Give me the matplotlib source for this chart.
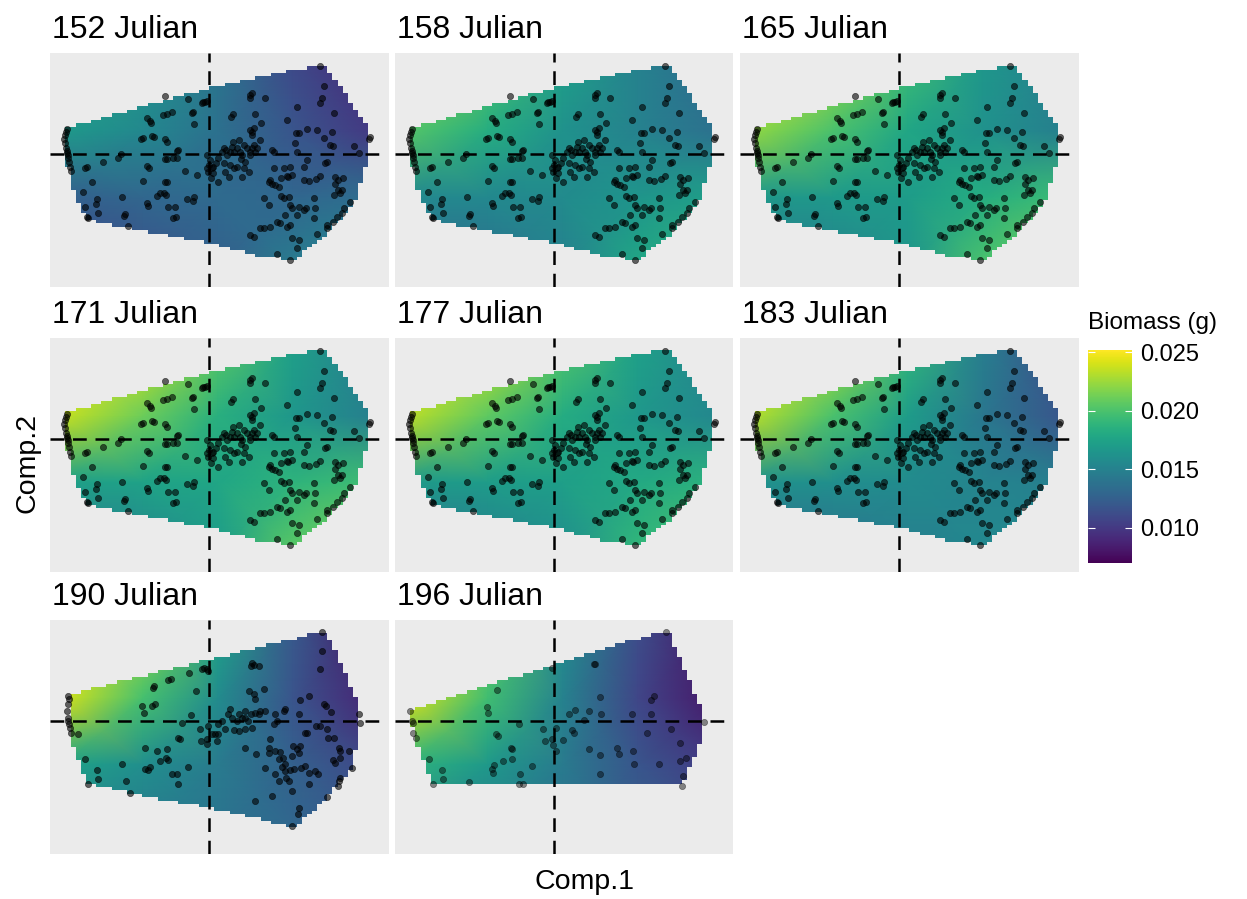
import numpy as np
import matplotlib.pyplot as plt
from matplotlib.path import Path
from matplotlib.colors import Normalize
from matplotlib.cm import ScalarMappable

plt.rcParams['font.family'] = ['Liberation Sans', 'DejaVu Sans']

days = [152, 158, 165, 171, 177, 183, 190, 196]

# nodes of the coarse prediction grid (Comp.1 across, Comp.2 up)
grid_c1 = [-4.4, -2.0, 0.25, 2.5, 4.9]
grid_c2 = [-3.3, -1.3, 0.7, 2.75]

# predicted biomass (g) at the grid nodes, rows from bottom to top
biomass_152 = [[0.0105, 0.0115, 0.0125, 0.0145, 0.0160],
               [0.0125, 0.0130, 0.0133, 0.0130, 0.0135],
               [0.0168, 0.0155, 0.0138, 0.0118, 0.0100],
               [0.0185, 0.0165, 0.0140, 0.0110, 0.0090]]
biomass_158 = [[0.0128, 0.0138, 0.0150, 0.0178, 0.0192],
               [0.0155, 0.0155, 0.0157, 0.0165, 0.0172],
               [0.0203, 0.0183, 0.0162, 0.0150, 0.0137],
               [0.0230, 0.0202, 0.0172, 0.0150, 0.0132]]
biomass_165 = [[0.0138, 0.0150, 0.0165, 0.0200, 0.0220],
               [0.0166, 0.0168, 0.0170, 0.0183, 0.0195],
               [0.0222, 0.0200, 0.0178, 0.0163, 0.0148],
               [0.0255, 0.0225, 0.0195, 0.0166, 0.0148]]
biomass_171 = [[0.0138, 0.0153, 0.0170, 0.0205, 0.0222],
               [0.0172, 0.0175, 0.0178, 0.0188, 0.0196],
               [0.0236, 0.0211, 0.0185, 0.0166, 0.0148],
               [0.0270, 0.0240, 0.0205, 0.0172, 0.0148]]
biomass_177 = [[0.0136, 0.0147, 0.0160, 0.0190, 0.0205],
               [0.0168, 0.0170, 0.0172, 0.0180, 0.0187],
               [0.0233, 0.0207, 0.0182, 0.0167, 0.0154],
               [0.0268, 0.0237, 0.0202, 0.0173, 0.0152]]
biomass_183 = [[0.0130, 0.0138, 0.0148, 0.0155, 0.0160],
               [0.0163, 0.0160, 0.0157, 0.0152, 0.0148],
               [0.0232, 0.0200, 0.0170, 0.0142, 0.0118],
               [0.0268, 0.0230, 0.0190, 0.0147, 0.0112]]
biomass_190 = [[0.0150, 0.0145, 0.0140, 0.0130, 0.0120],
               [0.0175, 0.0160, 0.0145, 0.0126, 0.0108],
               [0.0240, 0.0198, 0.0158, 0.0117, 0.0088],
               [0.0272, 0.0225, 0.0175, 0.0120, 0.0078]]
biomass_196 = [[0.0150, 0.0145, 0.0138, 0.0125, 0.0115],
               [0.0188, 0.0168, 0.0145, 0.0118, 0.0100],
               [0.0240, 0.0196, 0.0150, 0.0108, 0.0080],
               [0.0265, 0.0210, 0.0158, 0.0112, 0.0078]]

# convex hulls of the sampled sites
hull_main = [(-4.28, 0.79), (0.0, 1.99), (3.32, 2.68), (3.47, 2.62), (4.77, 0.72),
             (4.77, 0.02), (4.37, -1.38), (3.52, -2.38), (2.47, -3.20), (1.37, -3.03),
             (0.0, -2.68), (-1.58, -2.38), (-3.68, -1.98), (-4.08, -1.13), (-4.28, -0.23)]
hull_190 = [(-4.23, 0.80), (0.0, 1.85), (3.37, 2.68), (3.52, 2.60), (4.42, 0.55),
            (4.42, -0.05), (4.32, -1.30), (3.47, -2.35), (2.52, -3.20), (1.92, -3.05),
            (0.0, -2.60), (-0.93, -2.45), (-2.38, -2.15), (-3.63, -1.90), (-3.83, -1.45),
            (-4.08, -0.80), (-4.23, -0.10)]
hull_196 = [(-4.28, 0.35), (-0.13, 1.65), (2.97, 2.62), (3.42, 2.62), (4.42, 0.35),
            (4.42, -0.55), (3.87, -1.80), (3.82, -1.90), (-3.68, -1.90), (-4.18, -0.55),
            (-4.28, 0.0)]

# PCA scores of the sites (Comp.1, Comp.2)
scores_main = [
    (-4.28, 0.75), (-4.30, 0.67), (-4.33, 0.57), (-4.36, 0.45), (-4.34, 0.32), (-4.30, 0.17),
    (-4.28, 0.09), (-4.26, 0.02), (-4.23, -0.03), (-4.23, -0.13), (-4.21, -0.23), (-4.18, -0.38),
    (-4.16, -0.51), (-3.78, -1.13), (-3.73, -1.58), (-3.68, -1.88), (-3.63, -1.93), (-3.38, -1.36),
    (-3.41, -1.51), (-3.33, -1.78), (-3.53, -0.83), (-3.68, -0.38), (-3.73, -0.43), (-3.18, -0.25),
    (-2.63, -1.30), (-2.66, -0.01), (-2.73, -0.13), (-2.53, -1.81), (-2.56, -1.86), (-2.43, -2.16),
    (-1.88, 1.07), (-1.78, 0.99), (-1.76, 0.92), (-1.38, 1.17), (-1.28, 1.19), (-1.33, 1.74),
    (-1.13, 1.27), (-2.06, 0.45), (-1.98, 0.49), (-1.73, 0.54), (-1.66, 0.52), (-1.33, 0.45),
    (-1.26, 0.35), (-1.86, -0.35), (-1.80, -0.43), (-2.00, -0.80), (-1.33, -0.83), (-1.28, -0.83),
    (-1.48, -1.18), (-1.58, -1.25), (-1.35, -1.17), (-1.30, -1.23), (-1.88, -1.48), (-1.83, -1.55),
    (-1.23, -1.58), (-1.03, -1.59), (-1.08, -1.91), (-1.00, -1.89), (-0.98, 0.09), (-0.93, 0.12),
    (-1.33, -0.16), (-1.26, -0.16), (-1.08, -0.11), (-0.98, -0.13), (-0.73, -0.50), (-0.63, 1.65),
    (-0.53, 1.24), (-0.48, 1.27), (-0.46, 0.91), (-0.23, 1.52), (-0.18, 1.57), (-0.13, 1.55),
    (-0.08, 1.59), (-0.38, -0.63), (-0.46, -1.30), (-0.48, -1.41), (-0.68, -1.36),
    (-0.08, -0.03), (0.02, -0.18), (0.00, -0.33), (-0.08, -0.43), (0.07, -0.43), (-0.03, -0.53),
    (0.12, -0.58), (0.04, -0.73), (0.12, -0.38), (0.20, -0.28), (0.27, -0.13), (0.27, -0.83),
    (0.37, 0.07), (0.42, 0.17), (0.50, 0.12), (0.52, -0.03), (0.62, 0.07), (0.67, 0.22),
    (0.72, 0.07), (0.70, 0.37), (0.87, 0.42), (0.82, 0.17), (0.92, 0.07), (0.97, -0.03),
    (0.94, -0.15), (1.02, 0.27), (1.12, 0.17), (1.20, 0.07), (1.27, 0.17), (1.32, 0.27),
    (1.37, 0.07), (1.22, -0.03), (1.07, -0.23), (1.04, -0.43), (0.97, -0.68), (1.17, -0.53),
    (1.20, 0.72), (1.27, 0.67), (1.34, 0.77), (1.27, 0.57), (1.42, 0.17), (1.50, 0.42),
    (0.62, -0.33), (0.57, -0.68), (0.42, -0.28), (0.72, -0.43), (0.82, -0.38), (0.47, -0.53),
    (1.22, 1.67), (1.20, 1.77), (1.27, 1.82), (1.67, 1.67), (0.70, 1.19), (0.64, 1.12),
    (1.37, 1.20), (1.54, 0.94), (2.32, 1.02), (2.62, 1.40), (3.30, 1.52), (3.37, 1.67),
    (3.44, 2.04), (3.32, 2.65),
    (1.87, 0.12), (1.92, 0.05), (1.94, -0.43), (1.82, -0.78), (1.77, -0.85), (1.87, -0.90),
    (1.97, -0.93), (2.07, -0.98), (2.14, -0.73), (2.22, -0.43), (2.32, -0.65), (2.34, -0.68),
    (2.42, -0.38), (2.47, -0.63), (2.62, 0.07), (2.60, 0.62), (2.67, 0.62), (2.57, 0.32),
    (2.92, 0.75), (3.22, 0.72), (3.44, 0.47), (3.60, 0.27), (3.70, 0.24), (3.72, 1.22),
    (3.67, 0.67), (2.84, -0.38), (2.92, -0.18), (2.82, -0.78), (2.97, -0.81), (3.20, -0.75),
    (3.32, -0.65), (3.47, -0.28), (3.52, -0.23), (3.77, -0.68), (3.84, -0.78), (3.77, -0.91),
    (3.84, -1.08), (3.92, -1.18), (3.97, -1.08), (3.72, -1.23), (4.00, -0.71), (4.34, 0.25),
    (4.47, 0.02), (4.80, 0.52), (4.77, 0.45), (1.62, -1.33), (1.77, -1.53), (2.15, -1.25),
    (2.22, -1.33), (2.37, -1.28), (2.42, -1.53), (2.47, -1.63), (2.67, -1.58), (2.62, -1.83),
    (2.82, -1.68), (2.90, -1.61), (3.12, -1.33), (3.17, -1.61), (3.12, -1.93), (3.22, -2.41),
    (3.52, -2.13), (3.52, -2.21), (3.70, -2.03), (3.82, -1.88), (4.02, -1.63), (4.22, -1.43),
    (3.97, -1.78), (1.52, -2.23), (1.62, -2.23), (1.82, -2.18), (1.22, -2.43), (1.32, -2.48),
    (2.27, -1.83), (2.32, -2.18), (2.42, -2.13), (2.47, -2.53), (2.67, -2.58), (2.62, -2.83),
    (2.40, -3.18), (2.02, -3.01), (2.02, -2.03), (2.12, -2.08),
]

scores_190 = [
    (-4.23, 0.75), (-4.21, 0.65), (-4.25, 0.52), (-4.28, 0.30), (-4.25, 0.10), (-4.23, 0.00),
    (-4.21, -0.10), (-4.18, -0.20), (-4.15, -0.35), (-3.95, -0.38), (-3.73, -1.15), (-3.63, -1.90),
    (-3.38, -1.47), (-3.35, -1.75), (-2.61, -1.30), (-2.51, -1.80), (-2.38, -2.15), (-2.03, 0.45),
    (-1.95, 0.25), (-1.68, 0.98), (-1.65, 1.05), (-1.63, 0.52), (-1.73, 0.45), (-1.23, 1.22),
    (-1.15, 1.25), (-0.61, 1.45), (-0.40, 0.90), (-0.23, 1.55), (-0.15, 1.58), (-0.08, 1.57),
    (-0.03, 1.50), (-0.55, 0.18), (-0.93, -0.50), (-0.88, -0.55), (-0.83, -0.05), (-0.28, -0.25),
    (-0.25, -0.60), (-0.08, -0.55), (-0.06, -0.70), (-0.03, -0.15), (0.07, -0.40), (0.27, -0.10),
    (0.37, 0.00), (0.55, 0.20), (0.62, 0.35), (0.67, 0.10), (0.82, 0.00), (0.87, 0.20),
    (0.97, 0.10), (1.05, 0.10), (1.15, 0.00), (1.07, 0.30), (1.25, 0.20), (1.37, 0.25),
    (1.47, 0.20), (1.52, 0.30), (1.67, 0.30), (1.32, 0.80), (1.37, 0.65), (1.17, 0.90),
    (1.27, 1.75), (1.32, 1.68), (1.25, 1.65), (1.47, 1.65), (1.62, 0.95), (1.97, 0.20),
    (2.02, 0.00), (1.92, -0.10), (2.22, 0.30), (2.27, 0.35), (2.72, 0.62), (2.97, 0.75),
    (3.37, 2.10), (3.32, 1.55), (3.42, 0.52), (3.49, 0.45), (3.65, 0.28), (3.37, 2.68),
    (2.67, 0.20), (2.85, -0.35), (2.92, -0.35), (3.19, -0.15), (3.32, -0.15), (3.52, -0.25),
    (3.55, -0.50), (3.72, -0.50), (3.87, -0.80), (3.92, -0.90), (4.17, -0.90), (3.69, -1.17),
    (3.77, -1.25), (3.92, -1.10), (4.49, 0.20), (4.52, -0.05), (4.27, -1.40), (3.92, -1.70),
    (3.87, -1.80), (3.85, -1.95), (3.52, -2.28), (-1.93, -1.45), (-1.78, -1.38), (-1.48, -1.20),
    (-1.31, -1.12), (-1.25, -1.18), (-1.26, -0.85), (-1.13, -1.60), (-0.98, -1.60), (-0.93, -1.90),
    (-0.63, -1.37), (-1.58, -0.90), (-1.93, -0.80), (-1.83, -1.48), (1.35, -2.40), (1.87, -2.25),
    (1.79, -0.80), (1.97, -0.90), (2.12, -0.93), (2.07, -1.15), (2.27, -1.28), (2.19, -1.10),
    (2.17, -1.38), (2.25, -1.50), (2.42, -1.47), (2.52, -1.45), (2.29, -1.70), (2.37, -1.80),
    (2.62, -0.85), (2.67, -0.95), (2.75, -1.40), (2.87, -1.35), (2.97, -1.55), (3.17, -1.50),
    (2.97, -1.90), (3.25, -1.60), (2.47, -2.10), (2.69, -2.60), (2.65, -2.80), (2.47, -3.15),
    (1.67, -1.40), (1.97, -1.60), (2.07, -1.80), (2.47, -1.05), (2.49, -0.75), (2.72, -0.75),
    (1.07, -0.80), (1.39, -1.00), (1.82, -0.55), (1.77, -0.95), (0.27, -0.38), (0.47, -0.25),
    (0.72, -0.28), (0.87, -0.30), (1.07, -0.25), (1.27, -0.20), (0.17, -0.40), (0.22, -0.60),
]

scores_196 = [
    (-4.33, 0.30), (-4.28, 0.00), (-4.25, -0.05), (-4.23, -0.35), (-4.15, -0.50), (-3.75, -1.15),
    (-3.38, -1.47), (-3.35, -1.75), (-3.63, -1.90), (-2.55, -1.83), (-2.01, 0.42), (-1.98, 0.23),
    (-1.71, 0.93), (-1.88, -1.45), (-1.81, -1.32), (-1.85, -1.55), (-1.75, -0.38), (-1.68, -0.45),
    (-1.55, -1.20), (-1.31, -0.80), (-1.28, -0.85), (-1.28, -1.15), (-1.03, -1.58), (-1.05, -1.90),
    (-0.93, -1.90), (-1.05, -0.10), (-0.68, -1.35), (-0.33, -0.25), (-0.28, -0.60), (-0.08, 1.60),
    (-0.08, -0.55), (-0.05, -0.72), (0.05, -0.90), (0.05, -0.20), (0.27, -0.58), (0.52, -0.28),
    (0.59, -0.35), (0.42, 0.20), (0.62, 0.32), (0.87, 0.02), (1.02, 0.30), (1.39, 0.22),
    (1.37, 0.72), (1.19, 1.70), (1.22, 1.72), (1.04, -0.83), (1.35, -1.02), (1.37, -1.58),
    (1.87, -0.80), (1.92, -1.00), (2.35, -0.90), (2.37, -1.28), (2.32, 0.20), (2.77, -0.35),
    (2.90, 0.22), (2.97, 0.75), (2.89, 0.62), (3.12, -1.30), (3.50, -0.25), (3.77, -0.65),
    (3.77, -1.20), (3.95, -1.12), (3.85, -1.65), (3.82, -1.95), (3.35, 2.68), (4.49, -0.02),
]

panels = {
    152: (biomass_152, hull_main, scores_main),
    158: (biomass_158, hull_main, scores_main),
    165: (biomass_165, hull_main, scores_main),
    171: (biomass_171, hull_main, scores_main),
    177: (biomass_177, hull_main, scores_main),
    183: (biomass_183, hull_main, scores_main),
    190: (biomass_190, hull_190, scores_190),
    196: (biomass_196, hull_196, scores_196),
}

W, H = 1247, 899
fig = plt.figure(figsize=(W / 100, H / 100), dpi=100)

xlim = (-4.78, 5.35)
ylim = (-3.99, 3.03)
norm = Normalize(vmin=0.0070, vmax=0.0252)
cmap = plt.get_cmap('viridis')
panel_bg = '#EBEBEB'

# raster cells used to cut the surface to the hull
nx, ny = 66, 70
xe = np.linspace(xlim[0], xlim[1], nx + 1)
ye = np.linspace(ylim[0], ylim[1], ny + 1)
xc = (xe[:-1] + xe[1:]) / 2
yc = (ye[:-1] + ye[1:]) / 2
XX, YY = np.meshgrid(xc, yc)
cell_centres = np.column_stack([XX.ravel(), YY.ravel()])

col_left = [50, 395, 740]
row_top = [53, 338, 620]
pw, ph = 338, 234

for i, day in enumerate(days):
    r, c = divmod(i, 3)
    ax = fig.add_axes([col_left[c] / W, 1 - (row_top[r] + ph) / H, pw / W, ph / H])
    ax.set_facecolor(panel_bg)
    biomass, hull, scores = panels[day]

    ax.pcolormesh(grid_c1, grid_c2, np.array(biomass), shading='gouraud',
                  cmap=cmap, norm=norm, zorder=1)

    inside = Path(hull).contains_points(cell_centres).reshape(ny, nx)
    bg = np.zeros((ny, nx, 4))
    bg[~inside] = (235 / 255, 235 / 255, 235 / 255, 1.0)
    ax.imshow(bg, extent=(xlim[0], xlim[1], ylim[0], ylim[1]), origin='lower',
              interpolation='nearest', aspect='auto', zorder=2)

    ax.axhline(0, color='black', lw=1.8, ls=(0, (5.5, 3.5)), zorder=3)
    ax.axvline(0, color='black', lw=1.8, ls=(0, (5.5, 3.5)), zorder=3)

    pts = np.array(scores)
    alpha = 0.45 if day == 196 else 0.6
    ax.scatter(pts[:, 0], pts[:, 1], s=20, c='black', alpha=alpha,
               linewidths=0.5, edgecolors='black', zorder=4)

    ax.set_xlim(xlim)
    ax.set_ylim(ylim)
    ax.set_xticks([])
    ax.set_yticks([])
    for sp in ax.spines.values():
        sp.set_visible(False)
    ax.set_title(f'{day} Julian', loc='left', fontsize=23, pad=11, x=0.005)

# colour bar
cax = fig.add_axes([1088 / W, 1 - 563 / H, 44 / W, 213 / H])
cb = fig.colorbar(ScalarMappable(norm=norm, cmap=cmap), cax=cax,
                  ticks=[0.010, 0.015, 0.020, 0.025])
cb.ax.set_yticklabels(['0.010', '0.015', '0.020', '0.025'])
cb.outline.set_visible(False)
cax.yaxis.set_ticks_position('both')
cax.tick_params(axis='y', direction='in', color='white', length=5, width=0.8,
                labelsize=17, pad=6, labelleft=False, labelright=True)
fig.text(1088 / W, 1 - 323 / H, 'Biomass (g)', fontsize=17.5, ha='left', va='center')

fig.text(585 / W, 1 - 882 / H, 'Comp.1', fontsize=20.5, ha='center', va='center')
fig.text(27 / W, 1 - 463 / H, 'Comp.2', fontsize=20.5, ha='center', va='center',
         rotation=90)

fig.savefig('out.png', dpi=100)
